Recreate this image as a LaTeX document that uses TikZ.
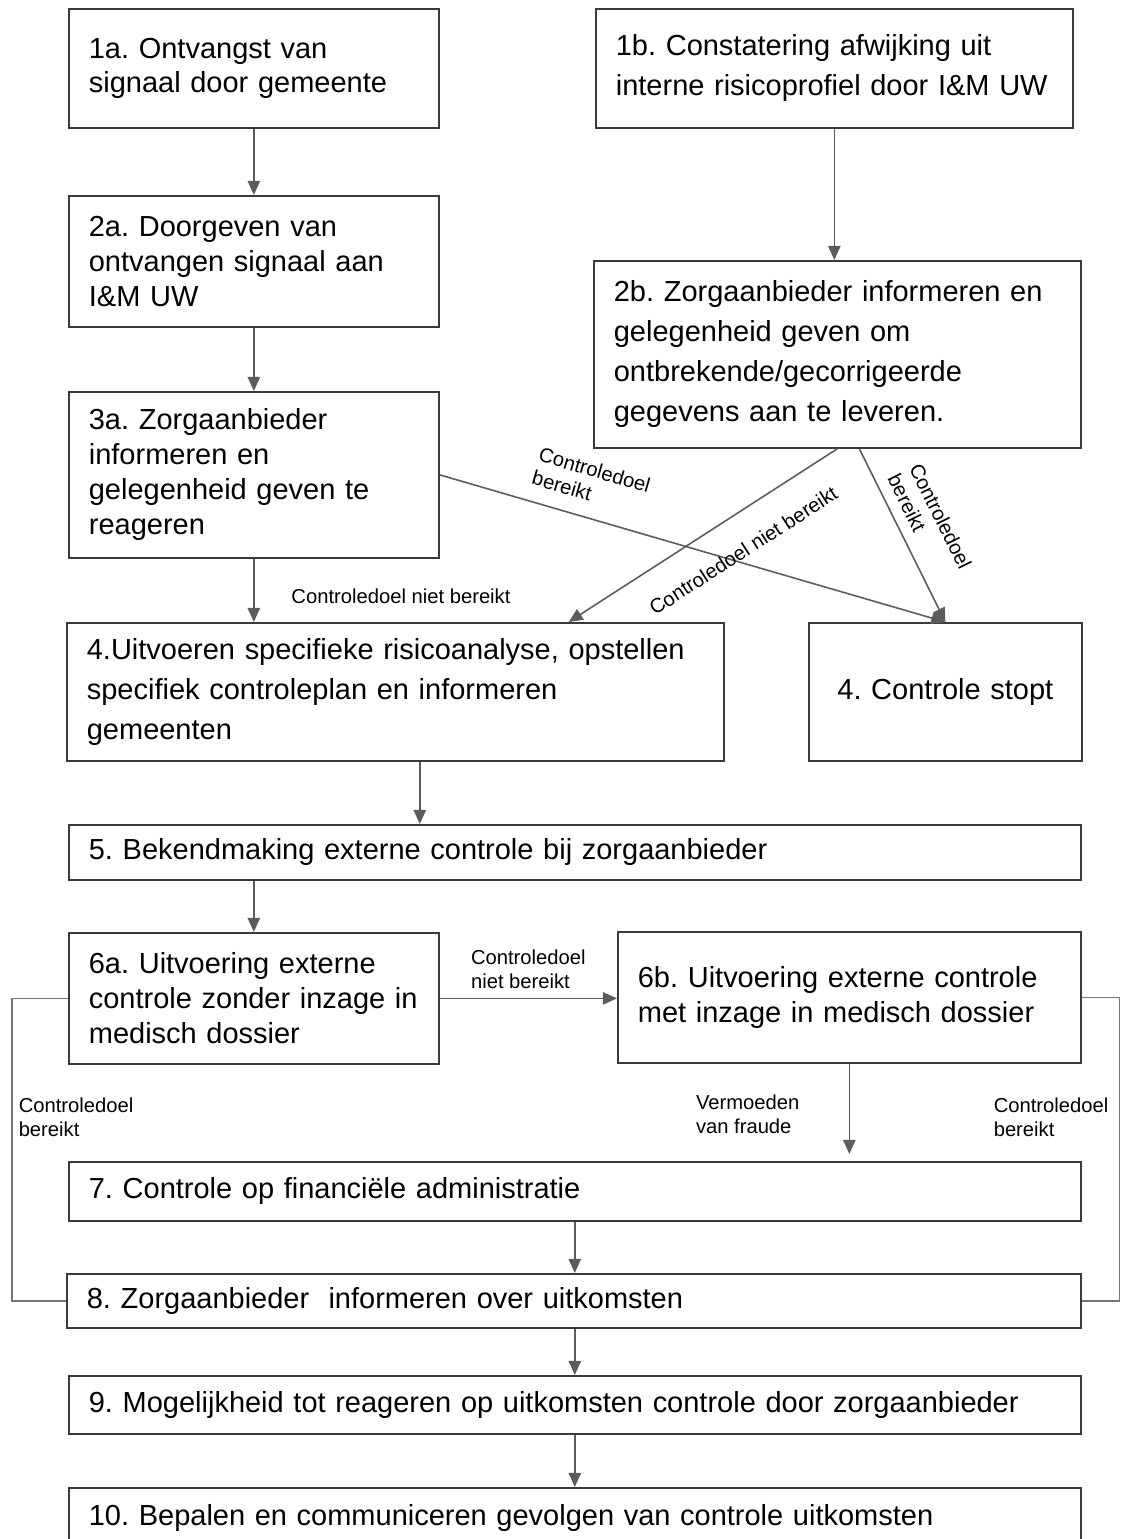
\documentclass[tikz,border=0pt]{standalone}
\usepackage{fontspec}
\setmainfont{Liberation Sans}
\usepackage{xcolor}
\usepackage{tikz}
\usetikzlibrary{positioning,arrows.meta}

\definecolor{rand}{HTML}{3A3A3A}
\definecolor{lijn}{HTML}{5C5C5C}
\frenchspacing

\begin{document}
\begin{tikzpicture}[x=0.02cm, y=-0.02cm,
		stap/.style={draw=rand, line width=1pt, anchor=north west, align=left, inner xsep=0.4cm, inner ysep=0pt, font=\fontsize{16.5}{19.9}\selectfont},
		ruim/.style={font=\fontsize{16.5}{22.8}\selectfont},
		pijl/.style={draw=lijn, line width=0.9pt, -{Triangle[length=8pt, width=7pt]}},
		zijlijn/.style={draw=lijn!85, line width=0.9pt},
		notitie/.style={font=\fontsize{11.5}{13.7}\selectfont, align=left, inner sep=1pt}]
		\useasboundingbox (0,0) rectangle (1122,1539);
		\node[stap, text width=6.6cm, minimum height=2.38cm] (ontvangst) at (68,8) {1a. Ontvangst van\\signaal door gemeente};
		\node[stap, ruim, text width=8.74cm, minimum height=2.38cm] (afwijking) at (595,8) {1b. Constatering afwijking uit\\interne risicoprofiel door I\&M UW};
		\node[stap, text width=6.6cm, minimum height=2.62cm] (doorgeven) at (68,195) {2a. Doorgeven van\\ontvangen signaal aan\\I\&M UW};
		\node[stap, ruim, text width=8.94cm, minimum height=3.74cm] (aanleveren) at (593,260) {2b. Zorgaanbieder informeren en\\gelegenheid geven om\\ontbrekende/gecorrigeerde\\gegevens aan te leveren.};
		\node[stap, text width=6.6cm, minimum height=3.32cm] (reageren) at (68,391) {3a. Zorgaanbieder\\informeren en\\gelegenheid geven te\\reageren};
		\node[stap, ruim, text width=12.34cm, minimum height=2.76cm] (analyse) at (66,622) {4.Uitvoeren specifieke risicoanalyse, opstellen\\specifiek controleplan en informeren\\gemeenten};
		\node[stap, text width=4.66cm, minimum height=2.76cm, align=center] (stopt) at (808,622) {4. Controle stopt};
		\node[stap, text width=19.44cm, minimum height=1.1cm] (bekendmaking) at (68,824) {5. Bekendmaking externe controle bij zorgaanbieder};
		\node[stap, text width=6.6cm, minimum height=2.62cm] (zonder) at (68,932) {6a. Uitvoering externe\\controle zonder inzage in\\medisch dossier};
		\node[stap, text width=8.46cm, minimum height=2.62cm] (met) at (617,931) {6b. Uitvoering externe controle\\met inzage in medisch dossier};
		\node[stap, text width=19.44cm, minimum height=1.18cm] (financieel) at (68,1161) {7. Controle op financiële administratie};
		\node[stap, text width=19.48cm, minimum height=1.08cm] (uitkomsten) at (66,1273) {8. Zorgaanbieder~ informeren over uitkomsten};
		\node[stap, text width=19.44cm, minimum height=1.16cm] (mogelijkheid) at (68,1375) {9. Mogelijkheid tot reageren op uitkomsten controle door zorgaanbieder};
		\node[stap, text width=19.44cm, minimum height=1.2cm] (gevolgen) at (68,1487) {10. Bepalen en communiceren gevolgen van controle uitkomsten};

		\draw[pijl] (ontvangst.south) -- (ontvangst.south |- doorgeven.north);
		\draw[pijl] (afwijking.south) -- (afwijking.south |- aanleveren.north);
		\draw[pijl] (doorgeven.south) -- (doorgeven.south |- reageren.north);
		\draw[pijl] (reageren.south) -- (reageren.south |- analyse.north);
		\node[notitie] (niet-a) at (401,596) {Controledoel niet bereikt};
		\draw[pijl] (reageren.east) -- node[notitie, sloped, above=8pt, pos=0.28] (bereikt-a) {Controledoel\\bereikt} (stopt.north);
		\draw[pijl] (aanleveren.south) -- node[notitie, sloped, below=14pt, pos=0.42] (niet-b) {Controledoel niet bereikt} ([xshift=-3.12cm]analyse.north east);
		\draw[pijl] ([xshift=0.44cm]aanleveren.south) -- node[notitie, sloped, above=5pt, pos=0.5] (bereikt-b) {Controledoel\\bereikt} (stopt.north);
		\draw[pijl] ([xshift=0.49cm]analyse.south) -- ([xshift=0.49cm]analyse.south |- bekendmaking.north);
		\draw[pijl] (bekendmaking.south -| zonder.north) -- (zonder.north);
		\draw[pijl] (zonder.east) -- node[notitie, above=4pt] (niet-c) {Controledoel\\niet bereikt} (zonder.east -| met.west);
		\draw[pijl, shorten >=0.14cm] (met.south) -- node[notitie, left=27pt, pos=0.52] (fraude) {Vermoeden\\van fraude} (met.south |- financieel.north);
		\draw[zijlijn] (zonder.west) -- ++(-56,0) |- node[notitie, right=2.4pt, pos=0.196] (bereikt-c) {Controledoel\\bereikt} (uitkomsten.west);
		\draw[zijlijn] (met.east) -- ++(38,0) |- node[notitie, left=5pt, pos=0.197] (bereikt-d) {Controledoel\\bereikt} (uitkomsten.east);
		\draw[pijl] (financieel.south) -- (financieel.south |- uitkomsten.north);
		\draw[pijl] (uitkomsten.south -| financieel.south) -- (financieel.south |- mogelijkheid.north);
		\draw[pijl] (mogelijkheid.south) -- (mogelijkheid.south |- gevolgen.north);
	\end{tikzpicture}
\end{document}
